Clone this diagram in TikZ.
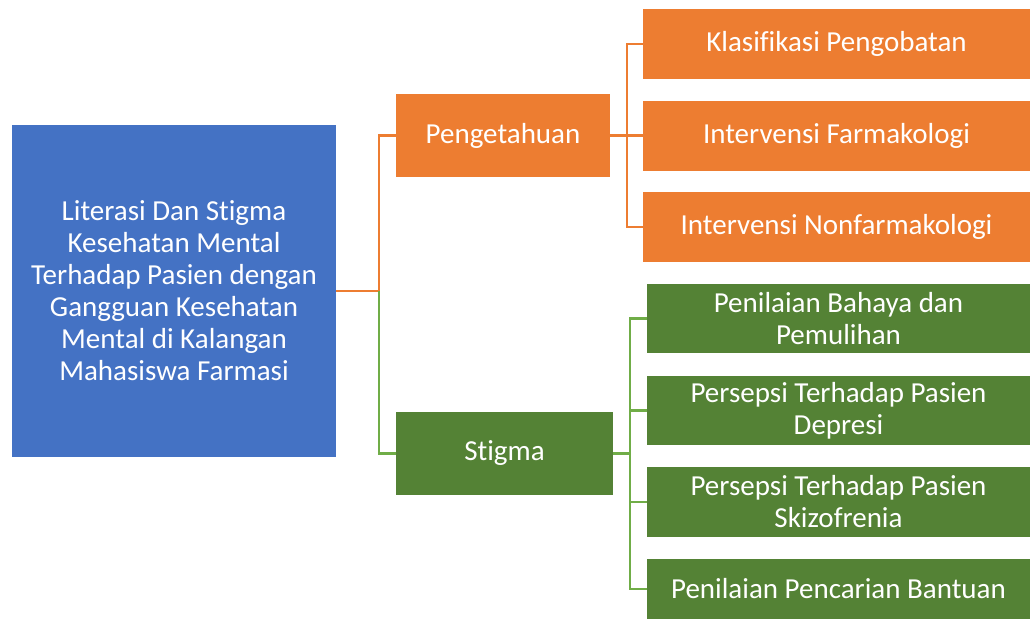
\documentclass[tikz,border=0pt]{standalone}
\usepackage{fontspec}
\setmainfont{Carlito}[Ligatures=CommonOff]
\definecolor{topicblue}{HTML}{4472C4}
\definecolor{pengorange}{HTML}{ED7D31}
\definecolor{stigmagreen}{HTML}{548235}
\definecolor{linegreen}{HTML}{70AD47}

\begin{document}
\begin{tikzpicture}[x=1pt,y=-1pt,
    box/.style={text=white,align=center,inner sep=0pt,font=\fontsize{29}{32}\selectfont},
    rootbox/.style={box,fill=topicblue,minimum width=324pt,minimum height=332pt},
    pengbox/.style={box,fill=pengorange,minimum height=83pt},
    stigbox/.style={box,fill=stigmagreen,minimum height=83pt},
    subpeng/.style={box,fill=pengorange,minimum width=387pt,minimum height=70pt},
    substig/.style={box,fill=stigmagreen,minimum width=383pt,minimum height=69pt},
    orangeline/.style={pengorange,line width=2.5pt},
    greenline/.style={linegreen,line width=2.5pt}]
    \useasboundingbox (0,0) rectangle (1030,619);

    % main topic
    \node[rootbox] (root) at (174,291) {Literasi Dan Stigma\\Kesehatan Mental\\Terhadap Pasien dengan\\Gangguan Kesehatan\\Mental di Kalangan\\Mahasiswa Farmasi};

    % second level
    \node[pengbox,minimum width=214pt] (peng) at (503,135.5) {Pengetahuan};
    \node[stigbox,minimum width=217pt] (stig) at (504.5,453.5) {Stigma};

    % pengetahuan
    \node[subpeng] (klas) at (836.5,44) {Klasifikasi Pengobatan};
    \node[subpeng] (farm) at (836.5,135.5) {Intervensi Farmakologi};
    \node[subpeng] (nonf) at (836.5,227) {Intervensi Nonfarmakologi};

    % stigma
    \node[substig] (baha) at (838.5,318.5) {Penilaian Bahaya dan\\Pemulihan};
    \node[substig] (depr) at (838.5,410.5) {Persepsi Terhadap Pasien\\Depresi};
    \node[substig,minimum height=70pt] (skiz) at (838.5,502) {Persepsi Terhadap Pasien\\Skizofrenia};
    \node[substig,minimum height=60pt] (bant) at (838.5,589) {Penilaian Pencarian Bantuan};

    % connectors
    \coordinate (jroot) at (379,291);
    \coordinate (jpeng) at (627,135.5);
    \coordinate (jstig) at (630,453.5);

    \draw[orangeline] (root.east) -- (jroot) |- (peng.west);
    \draw[greenline] (jroot) |- (stig.west);

    \draw[orangeline] (peng.east) -- (farm.west);
    \draw[orangeline] (jpeng) |- (klas.west);
    \draw[orangeline] (jpeng) |- (nonf.west);

    \draw[greenline] (stig.east) -- (jstig);
    \draw[greenline] (jstig) |- (baha.west);
    \draw[greenline] (jstig) |- (depr.west);
    \draw[greenline] (jstig) |- (skiz.west);
    \draw[greenline] (jstig) |- (bant.west);
\end{tikzpicture}
\end{document}
